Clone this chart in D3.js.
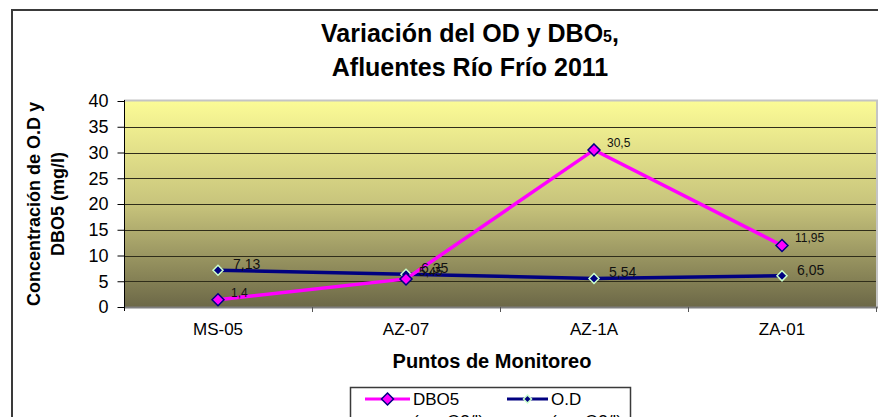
<!DOCTYPE html>
<html>
<head>
<meta charset="utf-8">
<script src="https://cdn.jsdelivr.net/npm/d3@7"></script>
<style>
  body { margin: 0; background: #fff; }
  svg { display: block; font-family: "Liberation Sans", Arial, sans-serif; }
</style>
</head>
<body>
<svg id="chart" width="878" height="417"></svg>
<script>
var w = 878;
var h = 417;

// data
var puntos = ["MS-05", "AZ-07", "AZ-1A", "ZA-01"];
var dbo5 = [1.4, 5.45, 30.5, 11.95];
var od = [7.13, 6.35, 5.54, 6.05];
var yTicks = [0, 5, 10, 15, 20, 25, 30, 35, 40];

var plot = {left: 124, right: 876, top: 101, bottom: 307};

var svg = d3.select("#chart");

// outer chart border
svg.append("path")
  .attr("d", "M12,430 L12,10 L890,10")
  .style("fill", "none")
  .style("stroke", "#3a3a3a")
  .style("stroke-width", 2);

// background gradient of plot area
var grad = svg.append("defs").append("linearGradient")
  .attr("id", "bg").attr("x1", 0).attr("y1", 0).attr("x2", 0).attr("y2", 1);
grad.append("stop").attr("offset", "0%").attr("stop-color", "#fbfb96");
grad.append("stop").attr("offset", "50%").attr("stop-color", "#c8c47c");
grad.append("stop").attr("offset", "100%").attr("stop-color", "#6c6847");

var x = d3.scaleBand().domain(puntos).range([plot.left, plot.right]);
var y = d3.scaleLinear().domain([0, 40]).range([plot.bottom, plot.top]);

svg.append("rect")
  .attr("x", plot.left).attr("y", plot.top)
  .attr("width", plot.right - plot.left).attr("height", plot.bottom - plot.top)
  .style("fill", "url(#bg)");

// plot frame (light grey top/right)
svg.append("path")
  .attr("d", "M" + plot.left + "," + (plot.top - 0.5) + " L" + (plot.right + 1) + "," + (plot.top - 0.5) + " L" + (plot.right + 1) + "," + plot.bottom)
  .style("fill", "none").style("stroke", "#c4c4c4").style("stroke-width", 2);

// gridlines
svg.selectAll(".grid")
  .data(yTicks.filter(function(d){ return d > 0 && d < 40; }))
  .enter().append("line")
  .attr("class", "grid")
  .attr("x1", plot.left).attr("x2", plot.right)
  .attr("y1", function(d){ return Math.round(y(d)) + 0.5; })
  .attr("y2", function(d){ return Math.round(y(d)) + 0.5; })
  .style("stroke", "#2f2d1a").style("stroke-width", 1.2);

// x axis (grey line) with ticks at band edges
svg.append("line")
  .attr("x1", plot.left).attr("x2", plot.right + 2)
  .attr("y1", plot.bottom + 0.5).attr("y2", plot.bottom + 0.5)
  .style("stroke", "#7f7f7f").style("stroke-width", 2);

var edges = puntos.slice(1).map(function(p){ return x(p); }).concat([plot.right]);
svg.selectAll(".xtick")
  .data(edges)
  .enter().append("line")
  .attr("x1", function(d){ return Math.round(d) + 0.5; })
  .attr("x2", function(d){ return Math.round(d) + 0.5; })
  .attr("y1", plot.bottom).attr("y2", plot.bottom + 5)
  .style("stroke", "#555");

var xAxis = svg.append("g")
  .attr("transform", "translate(0," + plot.bottom + ")")
  .call(d3.axisBottom(x).tickSize(0).tickPadding(16));
xAxis.select(".domain").remove();
xAxis.selectAll("text")
  .style("font-family", "Liberation Sans, Arial, sans-serif")
  .style("font-size", "17px").style("fill", "#000");

// y axis
var yAxis = svg.append("g")
  .attr("transform", "translate(" + (plot.left + 0.5) + ",0)")
  .call(d3.axisLeft(y).tickValues(yTicks).tickSize(7).tickPadding(9).tickSizeOuter(0));
yAxis.select(".domain").attr("d", "M0," + (plot.top - 1) + "V" + (plot.bottom + 4)).style("stroke", "#000");
yAxis.selectAll(".tick line").style("stroke", "#000");
yAxis.selectAll("text")
  .style("font-family", "Liberation Sans, Arial, sans-serif")
  .style("font-size", "18px").style("fill", "#000");

// titles
var title = svg.append("text")
  .attr("x", 470).attr("y", 42)
  .attr("text-anchor", "middle")
  .style("font-size", "25px").style("font-weight", "bold");
title.append("tspan").text("Variación del OD  y DBO");
title.append("tspan").style("font-size", "16px").text("5");
title.append("tspan").text(",");
svg.append("text")
  .attr("x", 470).attr("y", 76)
  .attr("text-anchor", "middle")
  .style("font-size", "25px").style("font-weight", "bold")
  .text("Afluentes Río Frío 2011");

svg.append("text")
  .attr("x", 492).attr("y", 368)
  .attr("text-anchor", "middle")
  .style("font-size", "20px").style("font-weight", "bold")
  .text("Puntos de Monitoreo");

var ytitle = svg.append("text")
  .attr("transform", "translate(40,204) rotate(-90)")
  .attr("text-anchor", "middle")
  .style("font-size", "18px").style("font-weight", "bold");
ytitle.append("tspan").attr("x", 0).attr("dy", 0).text("Concentración de O.D y");
ytitle.append("tspan").attr("x", 0).attr("dy", 24).text("DBO5 (mg/l)");

// lines
var cx = function(d, i){ return x(puntos[i]) + x.bandwidth() / 2; };
var line = d3.line()
  .x(function(d, i){ return cx(d, i); })
  .y(function(d){ return y(d); });

function diamond(r){
  return "M0," + (-r) + "L" + r + ",0L0," + r + "L" + (-r) + ",0Z";
}

function drawSeries(vals, color, fill, stroke, r){
  svg.append("path")
    .datum(vals)
    .attr("d", line)
    .style("fill", "none").style("stroke", color).style("stroke-width", 3.5)
    .style("stroke-linejoin", "miter");
  svg.selectAll(null)
    .data(vals)
    .enter().append("path")
    .attr("d", diamond(r))
    .attr("transform", function(d, i){ return "translate(" + cx(d, i) + "," + y(d) + ")"; })
    .style("fill", fill).style("stroke", stroke).style("stroke-width", 1.5);
}

drawSeries(od, "#000080", "#000080", "#ccffcc", 5);
drawSeries(dbo5, "#ff00ff", "#ff00ff", "#000080", 6);

// data labels
function labels(vals, fontSize, dx, dy){
  svg.selectAll(null)
    .data(vals)
    .enter().append("text")
    .attr("x", function(d, i){ return cx(d, i) + dx; })
    .attr("y", function(d){ return y(d) + dy; })
    .style("font-size", fontSize + "px").style("fill", "#111")
    .text(function(d){ return String(d).replace(".", ","); });
}
labels(od, 14, 15, -1);
labels(dbo5, 12, 13, -3);

// legend
var lg = svg.append("g").attr("transform", "translate(350,387)");
lg.append("rect")
  .attr("x", 0.5).attr("y", 0.5).attr("width", 280).attr("height", 60)
  .style("fill", "#fff").style("stroke", "#3a3a3a").style("stroke-width", 1.5);

var legendItems = [
  {name: "DBO5", color: "#ff00ff", fill: "#ff00ff", stroke: "#000080", r: 6, x: 15, len: 45},
  {name: "O.D", color: "#000080", fill: "#000080", stroke: "#ccffcc", r: 4, x: 157, len: 41}
];
legendItems.forEach(function(it){
  lg.append("line")
    .attr("x1", it.x).attr("x2", it.x + it.len).attr("y1", 12).attr("y2", 12)
    .style("stroke", it.color).style("stroke-width", 3);
  lg.append("path")
    .attr("d", diamond(it.r))
    .attr("transform", "translate(" + (it.x + it.len / 2) + ",12)")
    .style("fill", it.fill).style("stroke", it.stroke).style("stroke-width", 1.5);
  lg.append("text")
    .attr("x", it.x + it.len + 3).attr("y", 18)
    .style("font-size", "17px").text(it.name);
  lg.append("text")
    .attr("x", it.x + it.len + 3).attr("y", 40)
    .style("font-size", "17px").text("(mg O2/l)");
});
</script>
</body>
</html>
